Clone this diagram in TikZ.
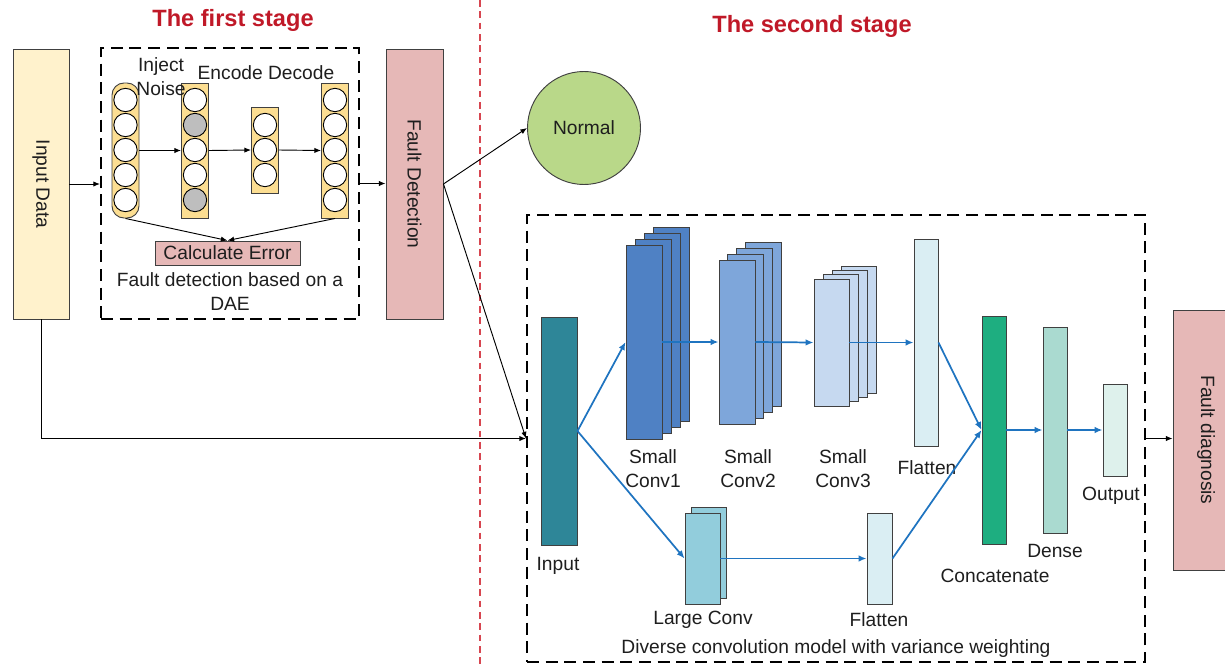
\documentclass[tikz,border=0pt]{standalone}
\usepackage{fontspec}
\setmainfont{Liberation Sans}
\usetikzlibrary{arrows.meta}

\definecolor{ink}{RGB}{30,30,30}
\definecolor{edge}{RGB}{64,64,64}
\definecolor{titlered}{RGB}{192,25,40}
\definecolor{splitred}{RGB}{215,70,80}
\definecolor{inputyellow}{RGB}{255,242,204}
\definecolor{daeyellow}{RGB}{252,222,146}
\definecolor{noisegray}{RGB}{190,190,190}
\definecolor{faultred}{RGB}{230,184,183}
\definecolor{normalgreen}{RGB}{185,216,137}
\definecolor{flowblue}{RGB}{31,116,192}
\definecolor{inputteal}{RGB}{46,134,152}
\definecolor{convA}{RGB}{79,129,196}
\definecolor{convB}{RGB}{126,166,218}
\definecolor{convC}{RGB}{198,217,240}
\definecolor{flatcol}{RGB}{218,238,243}
\definecolor{largecol}{RGB}{146,205,220}
\definecolor{catcol}{RGB}{30,174,128}
\definecolor{densecol}{RGB}{170,218,208}
\definecolor{outcol}{RGB}{222,241,236}

\begin{document}
\begin{tikzpicture}
    [ x=0.75pt, y=-0.75pt
    , every node/.style={font=\fontsize{14.4}{18}\selectfont, text=ink}
    , box/.style={draw=edge, line width=0.7pt, inner sep=0pt}
    , frame/.style={draw=black, line width=1.5pt, dash pattern=on 9pt off 5pt, inner sep=0pt}
    , layer/.style={box, fill=daeyellow, minimum width=20.25pt}
    , unit/.style={draw=black, line width=0.7pt, circle, fill=white, minimum size=17.5pt, inner sep=0pt}
    , noisy/.style={unit, fill=noisegray}
    , arr/.style={line width=0.7pt, -{Latex[length=5pt,width=4pt]}}
    , flow/.style={draw=flowblue, line width=1.3pt, -{Latex[length=6pt,width=5pt]}}
    , title/.style={font=\bfseries\fontsize{17.7}{20}\selectfont, text=titlered}
    , cnn/.style={box, minimum width=27pt}
    , slim/.style={box, minimum width=18pt}
    ]

    \useasboundingbox (0,0) rectangle (1225,664);

    % stage titles and the split between them
    \node[title] (t1) at (233,20) {The first stage};
    \node[title] (t2) at (812,26) {The second stage};
    \draw[draw=splitred, line width=1.1pt, dash pattern=on 5pt off 3.5pt] (480,0) -- (480,664);

    % first stage: DAE fault detection
    \node[box, fill=inputyellow, minimum width=42pt, minimum height=202.5pt,
          label={[rotate=-90]center:Input Data}] (indata) at (41,184) {};
    \node[frame, minimum width=193.5pt, minimum height=203.25pt] (dae) at (230,183.5) {};
    \node[box, fill=faultred, minimum width=42.75pt, minimum height=202.5pt,
          label={[rotate=-90]center:Fault Detection}] (fdet) at (414.5,184) {};

    \node[layer, rounded corners=9pt, minimum height=101.25pt] (l1) at (125.5,150.5) {};
    \node[layer, minimum height=101.25pt] (l2) at (195,150.5) {};
    \node[layer, minimum height=64.5pt] (l3) at (265,150) {};
    \node[layer, minimum height=101.25pt] (l4) at (335,150.5) {};

    \foreach \y in {100,125,...,200} {
      \node[unit] (u1-\y) at (125.5,\y) {};
      \node[unit] (u4-\y) at (335,\y) {};
    }
    \foreach \y/\s in {100/unit,125/noisy,150/unit,175/unit,200/noisy}
      \node[\s] (u2-\y) at (195,\y) {};
    \foreach \y in {125,150,175}
      \node[unit] (u3-\y) at (265,\y) {};

    \node[align=center] (noise) at (161,76.5) {Inject\\Noise};
    \node (codec) at (266,73) {Encode Decode};
    \node[box, fill=faultred, minimum width=108.75pt, minimum height=18pt] (err) at (227.5,253) {Calculate Error};
    \node[align=center] (daecap) at (230,291.5) {Fault detection based on a\\DAE};

    \draw[arr] (l1.east) -- (l2.west);
    \draw[arr] (l2.east) -- (l3.west);
    \draw[arr] (l3.east) -- (l4.west);
    \draw[arr] (l1.south) -- (err.north);
    \draw[arr] (l4.south) -- (err.north);

    \draw[arr] (indata.east) -- (indata.east -| dae.west);
    \draw[arr] (dae.east) -- (dae.east -| fdet.west);

    % second stage
    \node[circle, draw=edge, line width=0.7pt, fill=normalgreen, minimum size=84.75pt] (normal) at (584,128) {Normal};
    \node[frame, minimum width=463.5pt, minimum height=335.25pt] (dcm) at (836,438.5) {};
    \node[box, fill=faultred, minimum width=49.5pt, minimum height=195pt,
          label={[rotate=-90]center:Fault diagnosis}] (fdiag) at (1206,440) {};

    \draw[arr] (fdet.east) -- (normal.west);
    \draw[arr] (fdet.east) -- (dcm.west);
    \draw[arr] (indata.south) |- (dcm.west);
    \draw[arr] (dcm.east) -- (dcm.east -| fdiag.west);

    % diverse convolution model
    \node[cnn, fill=inputteal, minimum height=171pt] (inp) at (559,431) {};

    \foreach \i in {3,2,1}
      \node[cnn, fill=convA, minimum height=145.5pt, xshift=\i*6.75pt, yshift=\i*4.5pt] (c1-\i) at (644,342) {};
    \node[cnn, fill=convA, minimum height=145.5pt] (c1) at (644,342) {};

    \foreach \i in {3,2,1}
      \node[cnn, fill=convB, minimum height=123pt, xshift=\i*6.5pt, yshift=\i*4.5pt] (c2-\i) at (737,342) {};
    \node[cnn, fill=convB, minimum height=123pt] (c2) at (737,342) {};

    \foreach \i in {3,2,1}
      \node[cnn, fill=convC, minimum width=26.25pt, minimum height=95.25pt, xshift=\i*6.75pt, yshift=\i*3.2pt] (c3-\i) at (831.5,342.5) {};
    \node[cnn, fill=convC, minimum width=26.25pt, minimum height=95.25pt] (c3) at (831.5,342.5) {};

    \node[slim, fill=flatcol, minimum height=155.25pt] (fl1) at (926,342.5) {};

    \node[cnn, fill=largecol, minimum width=26.25pt, minimum height=68.25pt, xshift=4.9pt, yshift=4.5pt] (lc-1) at (702.5,558.5) {};
    \node[cnn, fill=largecol, minimum width=26.25pt, minimum height=68.25pt] (lc) at (702.5,558.5) {};
    \node[slim, fill=flatcol, minimum width=18.75pt, minimum height=68.25pt] (fl2) at (879.5,558.5) {};

    \node[slim, fill=catcol, minimum height=171pt] (cat) at (994,430) {};
    \node[slim, fill=densecol, minimum height=154.5pt] (den) at (1055,430) {};
    \node[slim, fill=outcol, minimum height=69pt] (out) at (1115,430) {};

    \node (inplab) at (558,566) {Input};
    \node[align=center] (c1lab) at (653,469) {Small\\Conv1};
    \node[align=center] (c2lab) at (748,469) {Small\\Conv2};
    \node[align=center] (c3lab) at (843,469) {Small\\Conv3};
    \node (fl1lab) at (927,468) {Flatten};
    \node (lclab) at (703,620) {Large Conv};
    \node (fl2lab) at (879,620) {Flatten};
    \node (catlab) at (995,576) {Concatenate};
    \node (denlab) at (1055,551) {Dense};
    \node (outlab) at (1111,496) {Output};
    \node (dcmlab) at (836,649) {Diverse convolution model with variance weighting};

    \draw[flow] (inp.east) -- (c1.west);
    \draw[flow] (inp.east) -- (lc.west);
    \draw[flow] (c1.east) -- (c2.west);
    \draw[flow] (c2.east) -- (c3.west);
    \draw[flow] (c3.east) -- (c3.east -| fl1.west);
    \draw[flow] (lc.east) -- (fl2.west);
    \draw[flow] (fl1.east) -- (cat.west);
    \draw[flow] (fl2.east) -- (cat.west);
    \draw[flow] (cat.east) -- (den.west);
    \draw[flow] (den.east) -- (out.west);

\end{tikzpicture}
\end{document}
